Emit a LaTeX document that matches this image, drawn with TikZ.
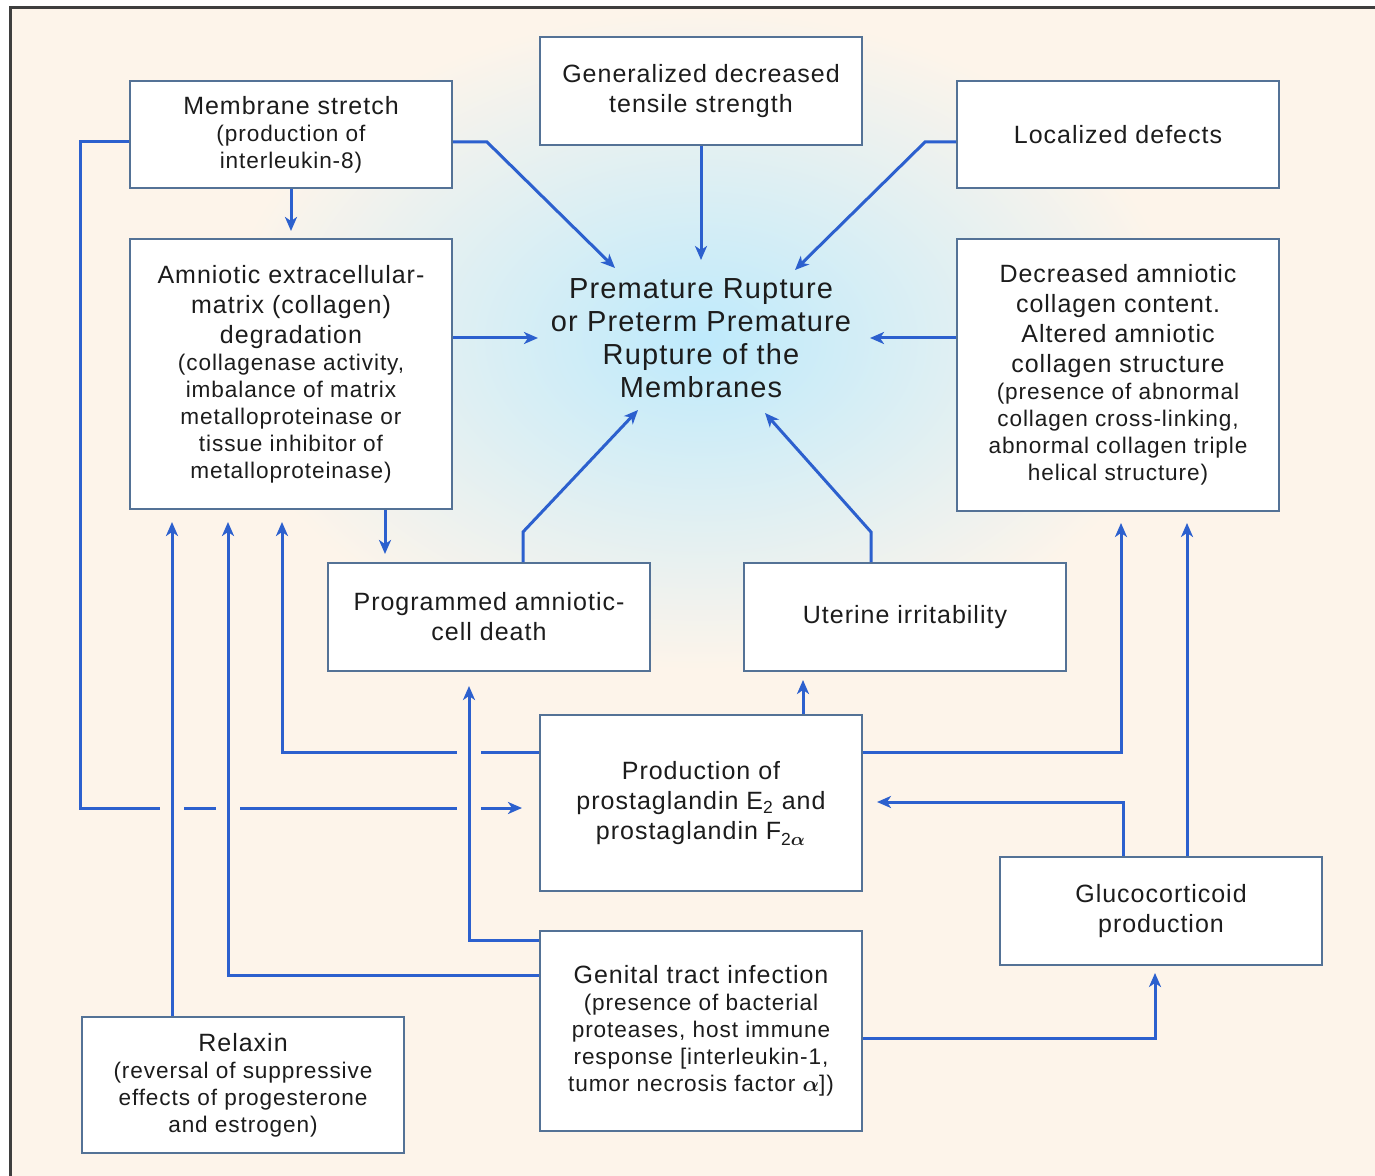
\documentclass[tikz,border=0pt]{standalone}
\usepackage{fontspec}
\usetikzlibrary{calc,arrows.meta}
\setmainfont{Liberation Sans}[LetterSpace=4]
\definecolor{pprPaper}{RGB}{253,244,234}
\definecolor{pprEdge}{RGB}{84,114,150}
\definecolor{pprBlue}{RGB}{44,96,206}
\definecolor{pprGlow}{RGB}{190,234,252}
\definecolor{pprText}{RGB}{28,28,28}
\definecolor{pprFrame}{RGB}{62,62,62}
\newcommand{\maintext}{\fontsize{12.5}{15}\selectfont}
\newcommand{\subtext}{\fontsize{11.3}{13.5}\selectfont}
\newcommand{\balpha}{{\boldmath$\alpha$}}

\begin{document}
\begin{tikzpicture}[x=0.5pt,y=-0.5pt,
  box/.style={draw=pprEdge, line width=1pt, fill=white, text=pprText, minimum width=161pt, inner sep=0pt, align=center, font=\maintext},
  boxsub/.style={box, font=\subtext},
  flow/.style={draw=pprBlue, line width=1.5pt, -{Stealth[length=7pt,width=6pt,inset=2pt]}},
  hop/.style={preaction={draw=pprPaper, line width=12pt, -, shorten <=9pt, shorten >=9pt}}]
\useasboundingbox (0,0) rectangle (1375,1176);
\fill[white] (0,0) rectangle (1375,1176);
\fill[pprPaper] (10,8) rectangle (1375,1176);
\shade[inner color=pprGlow, outer color=pprPaper] (701,340) ellipse [x radius=240pt, y radius=165pt];
\draw[pprFrame, line width=1.5pt] (10,1176) -- (10,8) -- (1375,8);

% boxes
\node[boxsub, minimum height=53.5pt] (stretch) at (291,134.5) {{\maintext Membrane stretch}\\(production of\\interleukin-8)};
\node[box, minimum height=54pt] (tensile) at (701,91) {Generalized decreased\\tensile strength};
\node[box, minimum height=53.5pt] (defects) at (1118,134.5) {Localized defects};
\node[boxsub, minimum height=135pt] (ecm) at (291,374) {{\maintext Amniotic extracellular-}\\[1.5pt]{\maintext matrix (collagen)}\\[1.5pt]{\maintext degradation}\\(collagenase activity,\\imbalance of matrix\\metalloproteinase or\\tissue inhibitor of\\metalloproteinase)};
\node[boxsub, minimum height=136pt] (collagen) at (1118,375) {{\maintext Decreased amniotic}\\[1.5pt]{\maintext collagen content.}\\[1.5pt]{\maintext Altered amniotic}\\[1.5pt]{\maintext collagen structure}\\(presence of abnormal\\collagen cross-linking,\\abnormal collagen triple\\helical structure)};
\node[font=\fontsize{14.5}{16.5}\selectfont, text=pprText, align=center] (prom) at (701,338) {Premature Rupture\\or Preterm Premature\\Rupture of the\\Membranes};
\node[box, minimum height=54pt] (apoptosis) at (489,617) {Programmed amniotic-\\cell death};
\node[box, minimum height=54pt] (uterine) at (905,617) {Uterine irritability};
\node[box, minimum height=88pt] (pg) at (701,803) {Production of\\prostaglandin E\textsubscript{2} and\\prostaglandin F\textsubscript{2\balpha}};
\node[box, minimum height=54pt] (gluco) at (1161,911) {Glucocorticoid\\production};
\node[boxsub, minimum height=100pt] (infection) at (701,1031) {{\maintext Genital tract infection}\\(presence of bacterial\\proteases, host immune\\response [interleukin-1,\\tumor necrosis factor \balpha])};
\node[boxsub, minimum height=68pt] (relaxin) at (243,1085) {{\maintext Relaxin}\\(reversal of suppressive\\effects of progesterone\\and estrogen)};

% into the rupture
\draw[flow, shorten >=3.5pt] (stretch) -- (ecm);
\draw[flow] (stretch.east |- 0,142) -- ++(34,0) -- ($(prom)+(-86,-70)$);
\draw[flow] (tensile) -- ($(prom)+(0,-78)$);
\draw[flow] (defects.west |- 0,142) -- ++(-31,0) -- ($(prom)+(94,-68)$);
\draw[flow] (ecm.east |- prom) -- ($(prom)+(-163,0)$);
\draw[flow] (collagen.west |- prom) -- ($(prom)+(169,0)$);
\draw[flow, shorten >=4pt] (ecm.south -| 385,0) -- (apoptosis.north -| 385,0);
\draw[flow] (apoptosis.north -| 523,0) -- ++(0,-30) -- ($(prom)+(-63,72)$);
\draw[flow] (uterine.north -| 871,0) -- ++(0,-30) -- ($(prom)+(64,75)$);
\draw[flow, shorten >=4pt] (pg.north -| 803,0) -- (uterine.south -| 803,0);

% feedback paths
\draw[flow, shorten >=6pt] (pg.west |- 0,752) -| (ecm.south -| 282,0);
\draw[flow, shorten >=8.5pt] (stretch.west |- 0,142) -| (80,808) -- (pg.west |- 0,808);
\draw[flow, hop, shorten >=6pt] (relaxin.north -| 172,0) -- (ecm.south -| 172,0);
\draw[flow, hop, shorten >=6pt] (infection.west |- 0,975) -| (ecm.south -| 228,0);
\draw[flow, hop, shorten >=7pt] (infection.west |- 0,940) -| (apoptosis.south -| 469,0);
\draw[flow, shorten >=3.5pt] (infection.east |- 0,1038) -| (gluco.south -| 1155,0);
\draw[flow, shorten >=7pt] (gluco.north -| 1123,0) |- (pg.east |- 0,802);
\draw[flow, shorten >=5.5pt] (gluco.north -| 1187,0) -- (collagen.south -| 1187,0);
\draw[flow, shorten >=5.5pt] (pg.east |- 0,752) -| (collagen.south -| 1121,0);
\end{tikzpicture}
\end{document}
